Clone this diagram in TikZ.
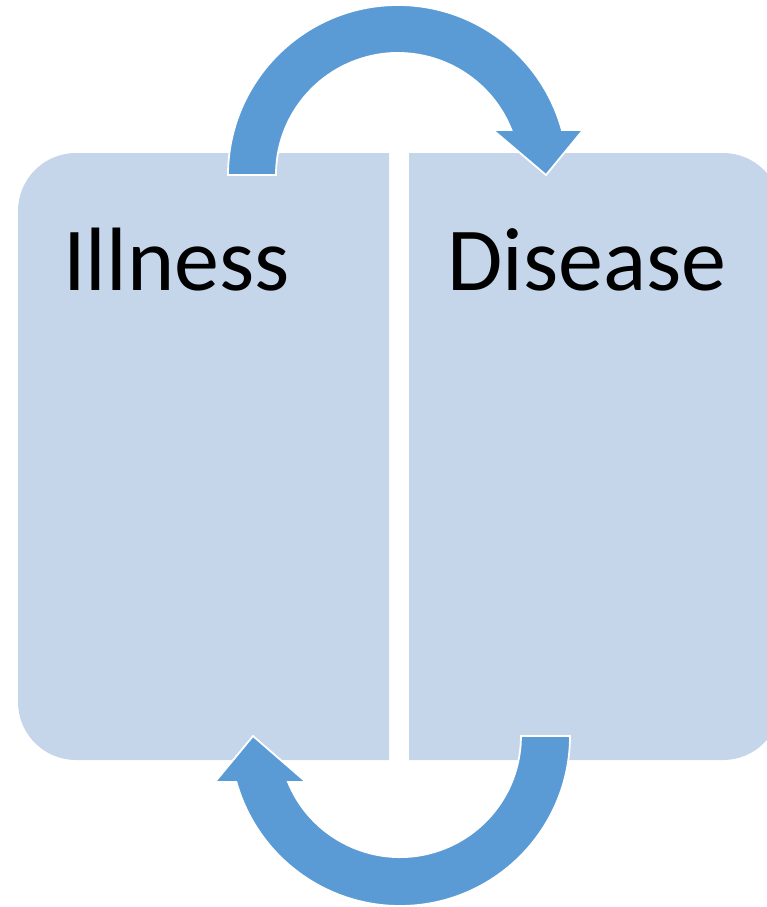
\documentclass[tikz,border=0pt]{standalone}
\usepackage{fontspec}
\setmainfont{Carlito}
\definecolor{panelfill}{RGB}{197,213,234}
\definecolor{arrowfill}{RGB}{91,155,213}
\begin{document}
\begin{tikzpicture}[x=1pt,y=1pt,
  panel/.style={fill=panelfill,draw=none},
  blockarrow/.style={fill=arrowfill,draw=white,line width=1.8pt,line join=miter},
  label/.style={inner sep=0pt,anchor=base west,font=\fontsize{90}{100}\selectfont}]
\useasboundingbox (0,0) rectangle (767,-907);
\clip (0,0) rectangle (767,-907);

% left panel, rounded on the left side
\draw[panel] (389,-153) -- (76,-153) arc[start angle=90,end angle=180,radius=58]
  -- (18,-702) arc[start angle=180,end angle=270,radius=58] -- (389,-760) -- cycle;
% right panel, rounded on the right side
\draw[panel] (409,-153) -- (723,-153) arc[start angle=90,end angle=0,radius=58]
  -- (781,-702) arc[start angle=0,end angle=-90,radius=58] -- (409,-760) -- cycle;

\node[label] (illness) at (63,-290) {Illness};
\node[label] (disease) at (447,-290) {Disease};

% upper curved arrow, from the left panel over to the right panel
\draw[blockarrow] (228,-175) arc[start angle=180,end angle=15.36,radius=170]
  -- (583,-130) -- (546,-175) -- (493,-130) -- (511.4,-130)
  arc[start angle=21.63,end angle=180,radius=122] -- cycle;

% lower curved arrow, from the right panel back under to the left panel
\draw[blockarrow] (570,-736) arc[start angle=0,end angle=-164.3,radius=170]
  -- (215,-782) -- (253,-736) -- (306,-782) -- (288,-782)
  arc[start angle=-157.7,end angle=0,radius=121] -- cycle;
\end{tikzpicture}
\end{document}
